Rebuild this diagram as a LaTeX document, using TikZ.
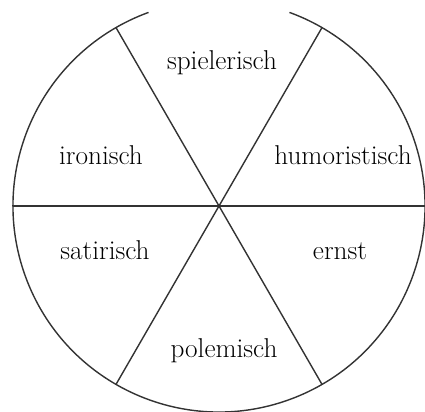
\documentclass[tikz,border=0pt]{standalone}
\usepackage{tikz}
\tikzset{
    wordlabel/.style={font=\fontsize{15.5}{18}\selectfont, anchor=base, inner sep=0pt},
    rim/.style={line width=0.8pt, black!80}
}
\begin{document}
\begin{tikzpicture}
    \useasboundingbox (0,0) rectangle (8.5,8.24);
    \clip (0,0) rectangle (8.5,8.24);
    \coordinate (c) at (4.38,4.12);

    % Rim points
    \foreach \a/\n in {0/e, 60/ne, 120/nw, 180/w, 240/sw, 300/se}
        \coordinate (\n) at ([shift={(\a:4.12)}]c);

    % Circle, open at the top
    \draw[rim] ([shift={(110:4.12)}]c) arc (110:430:4.12);

    % Dividing lines
    \draw[rim] (w) -- (e);
    \draw[rim] (nw) -- (se);
    \draw[rim] (ne) -- (sw);

    % Sectors
    \node[wordlabel] (spiel) at (4.44,6.84) {spielerisch};
    \node[wordlabel] (iron) at (2.02,4.94) {ironisch};
    \node[wordlabel] (humor) at (6.86,4.94) {humoristisch};
    \node[wordlabel] (satir) at (2.10,3.04) {satirisch};
    \node[wordlabel] (ernst) at (6.80,3.04) {ernst};
    \node[wordlabel] (polem) at (4.48,1.08) {polemisch};
\end{tikzpicture}
\end{document}
